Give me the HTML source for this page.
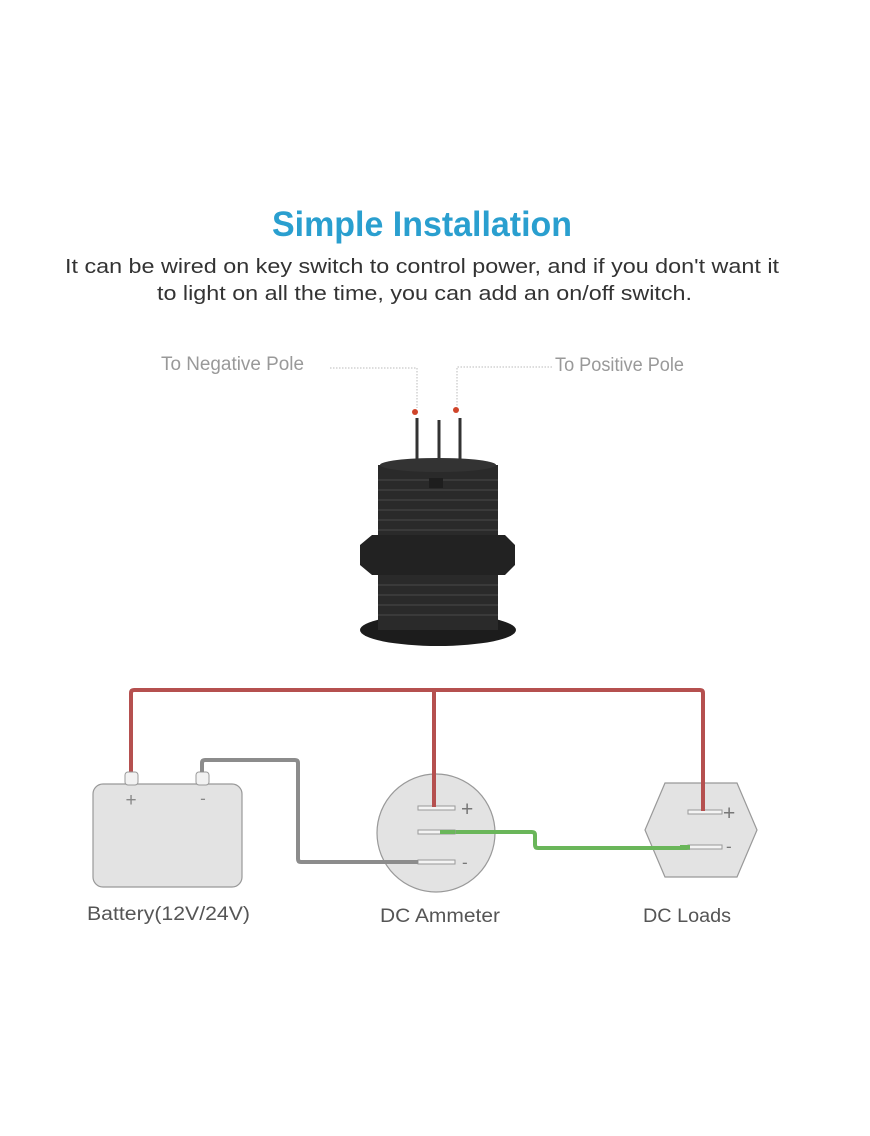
<!DOCTYPE html>
<html><head><meta charset="utf-8"><style>
html,body{margin:0;padding:0;background:#fff;}
</style></head><body>
<svg width="870" height="1131" viewBox="0 0 870 1131" xmlns="http://www.w3.org/2000/svg">
<rect width="870" height="1131" fill="#fff"/>
<text x="272" y="236" textLength="300" lengthAdjust="spacingAndGlyphs" font-family="Liberation Sans, sans-serif" font-weight="bold" font-size="35" fill="#2a9fcf">Simple Installation</text>
<text x="65" y="273" textLength="714" lengthAdjust="spacingAndGlyphs" font-family="Liberation Sans, sans-serif" font-size="20" fill="#333">It can be wired on key switch to control power, and if you don't want it</text>
<text x="157" y="300" textLength="535" lengthAdjust="spacingAndGlyphs" font-family="Liberation Sans, sans-serif" font-size="20" fill="#333">to light on all the time, you can add an on/off switch.</text>
<text x="161" y="370" textLength="143" lengthAdjust="spacingAndGlyphs" font-family="Liberation Sans, sans-serif" font-size="19" fill="#999">To Negative Pole</text>
<text x="555" y="371" textLength="129" lengthAdjust="spacingAndGlyphs" font-family="Liberation Sans, sans-serif" font-size="19" fill="#999">To Positive Pole</text>
<g stroke="#bbb" stroke-width="1" stroke-dasharray="1.5,1.5" fill="none">
<path d="M330 368 H417 V408"/><path d="M552 367 H457 V406"/>
</g>
<g>
<line x1="417" y1="418" x2="417" y2="462" stroke="#333" stroke-width="3"/>
<line x1="439" y1="420" x2="439" y2="462" stroke="#333" stroke-width="3"/>
<line x1="460" y1="418" x2="460" y2="462" stroke="#333" stroke-width="3"/>
<circle cx="415" cy="412" r="3" fill="#d0452a"/>
<circle cx="456" cy="410" r="3" fill="#d0452a"/>
<ellipse cx="438" cy="630" rx="78" ry="16" fill="#1c1c1c"/>
<rect x="378" y="575" width="120" height="55" fill="#2a2a2a"/>
<rect x="378" y="465" width="120" height="75" fill="#2a2a2a"/>
<ellipse cx="438" cy="465" rx="58" ry="7" fill="#333"/>
<path d="M360 545 L372 535 L505 535 L515 545 L515 565 L505 575 L372 575 L360 565 Z" fill="#222"/>
<g stroke="#4a4a4a" stroke-width="1">
<line x1="378" y1="480" x2="498" y2="480"/><line x1="378" y1="490" x2="498" y2="490"/>
<line x1="378" y1="500" x2="498" y2="500"/><line x1="378" y1="510" x2="498" y2="510"/>
<line x1="378" y1="520" x2="498" y2="520"/><line x1="378" y1="530" x2="498" y2="530"/>
<line x1="378" y1="585" x2="498" y2="585"/><line x1="378" y1="595" x2="498" y2="595"/>
<line x1="378" y1="605" x2="498" y2="605"/><line x1="378" y1="615" x2="498" y2="615"/>
</g>
<rect x="429" y="478" width="14" height="10" fill="#1e1e1e"/>
</g>
<g fill="none" stroke-linejoin="round" stroke-linecap="round">
<path d="M131 776 V693 Q131 690 134 690 H700 Q703 690 703 693 V808" stroke="#b5504f" stroke-width="4"/>
<path d="M434 690 V808" stroke="#b5504f" stroke-width="4"/>
</g>
<rect x="93" y="784" width="149" height="103" rx="10" fill="#e3e3e3" stroke="#999" stroke-width="1.2"/>
<rect x="125" y="772" width="13" height="13" rx="3" fill="#f2f2f2" stroke="#999"/>
<rect x="196" y="772" width="13" height="13" rx="3" fill="#f2f2f2" stroke="#999"/>
<text x="131" y="806" text-anchor="middle" font-family="Liberation Sans, sans-serif" font-size="19" fill="#888">+</text>
<text x="203" y="804" text-anchor="middle" font-family="Liberation Sans, sans-serif" font-size="17" fill="#888">-</text>
<ellipse cx="436" cy="833" rx="59" ry="59" fill="#e3e3e3" stroke="#999" stroke-width="1.2"/>
<polygon points="665,783 737,783 757,830 737,877 665,877 645,830" fill="#e3e3e3" stroke="#999" stroke-width="1.2"/>
<g fill="none" stroke-linejoin="round">
<path d="M202 772 V763 Q202 760 205 760 H295 Q298 760 298 763 V859 Q298 862 301 862 H418" stroke="#8c8c8c" stroke-width="4"/>
<path d="M455 832 H532 Q535 832 535 835 V845 Q535 848 538 848 H690" stroke="#6ab65a" stroke-width="4"/>
</g>
<g fill="#f4f4f4" stroke="#999" stroke-width="1">
<rect x="418" y="806" width="37" height="4"/>
<rect x="418" y="830" width="37" height="4"/>
<rect x="418" y="860" width="37" height="4"/>
<rect x="688" y="810" width="34" height="4"/>
<rect x="688" y="845" width="34" height="4"/>
</g>
<path d="M434 690 V807" stroke="#b5504f" stroke-width="4"/>
<path d="M703 760 V811" stroke="#b5504f" stroke-width="4"/>
<path d="M440 832 H455" stroke="#6ab65a" stroke-width="4"/>
<path d="M680 847 H690" stroke="#6ab65a" stroke-width="4"/>
<path d="M400 862 H418" stroke="#8c8c8c" stroke-width="4"/>
<g font-family="Liberation Sans, sans-serif" fill="#777">
<text x="461" y="816" font-size="21">+</text>
<text x="462" y="868" font-size="17">-</text>
<text x="723" y="820" font-size="21">+</text>
<text x="726" y="852" font-size="17">-</text>
</g>
<g font-family="Liberation Sans, sans-serif" font-size="19" fill="#555">
<text x="87" y="920" textLength="163" lengthAdjust="spacingAndGlyphs">Battery(12V/24V)</text>
<text x="380" y="922" textLength="120" lengthAdjust="spacingAndGlyphs">DC Ammeter</text>
<text x="643" y="922" textLength="88" lengthAdjust="spacingAndGlyphs">DC Loads</text>
</g>
</svg>
</body></html>
